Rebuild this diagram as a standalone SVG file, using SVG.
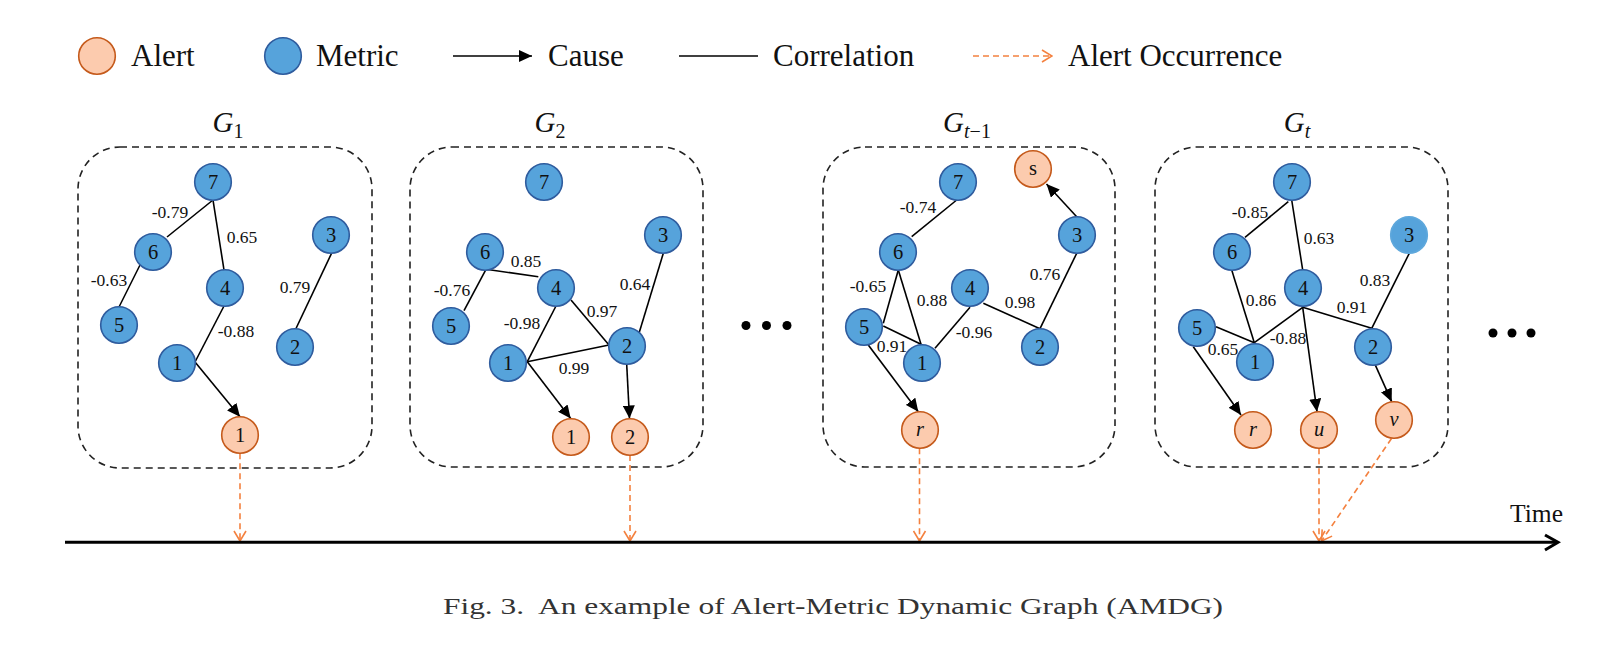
<svg xmlns="http://www.w3.org/2000/svg" width="1620" height="646" viewBox="0 0 1620 646">
<style>
text{font-family:"Liberation Serif","Times New Roman",serif;fill:#111}
.m circle{fill:#56A3DB;stroke:#2F5C9E;stroke-width:1.6}
.a circle{fill:#FCCBAE;stroke:#C55A1B;stroke-width:1.6}
.m text,.a text{font-size:20.5px;text-anchor:middle}
.it{font-style:italic}
.e{stroke:#000;stroke-width:1.6;fill:none}
.c{stroke:#000;stroke-width:1.6;fill:none;marker-end:url(#ah)}
.o{stroke:#F4813F;stroke-width:1.6;fill:none;stroke-dasharray:6 4;marker-end:url(#oh)}
.box{fill:none;stroke:#222;stroke-width:1.6;stroke-dasharray:7 5}
.lbl{font-size:17.5px;text-anchor:middle}
.leg{font-size:31px}
.ttl{font-size:29px;font-style:italic;text-anchor:middle}
</style>
<defs>
<marker id="ah" markerUnits="userSpaceOnUse" markerWidth="14" markerHeight="12" refX="13" refY="6" orient="auto"><path d="M0,0 L13,6 L0,12 z" fill="#000"/></marker>
<marker id="oh" markerUnits="userSpaceOnUse" markerWidth="12" markerHeight="14" refX="11" refY="7" orient="auto"><path d="M1,1 L11,7 L1,13" fill="none" stroke="#F4813F" stroke-width="1.6"/></marker>
</defs>
<rect width="1620" height="646" fill="#fff"/>

<!-- legend -->
<g id="legend">
<g class="a"><circle cx="97" cy="56" r="18.3"/></g>
<text class="leg" x="131" y="66">Alert</text>
<g class="m"><circle cx="283" cy="56" r="18.3"/></g>
<text class="leg" x="316" y="66">Metric</text>
<line class="c" x1="453" y1="56" x2="532" y2="56"/>
<text class="leg" x="548" y="66">Cause</text>
<line class="e" x1="679" y1="56" x2="758" y2="56"/>
<text class="leg" x="773" y="66">Correlation</text>
<line class="o" x1="973" y1="56" x2="1052" y2="56"/>
<text class="leg" x="1068" y="66">Alert Occurrence</text>
</g>

<!-- boxes & titles -->
<g id="frames">
<rect class="box" x="78" y="147" width="294" height="321" rx="42"/>
<rect class="box" x="410" y="147" width="293" height="320" rx="42"/>
<rect class="box" x="823" y="147" width="292" height="320" rx="42"/>
<rect class="box" x="1155" y="147" width="293" height="320" rx="42"/>
<text class="ttl" x="228" y="132">G<tspan font-size="20" font-style="normal" dy="6">1</tspan></text>
<text class="ttl" x="550" y="132">G<tspan font-size="20" font-style="normal" dy="6">2</tspan></text>
<text class="ttl" x="967" y="132">G<tspan font-size="20" dy="6">t</tspan><tspan font-size="20" font-style="normal">−1</tspan></text>
<text class="ttl" x="1297" y="132">G<tspan font-size="20" dy="6">t</tspan></text>
</g>

<!-- connectors -->
<g id="connectors">
<!-- G1 -->
<line class="e" x1="213" y1="200" x2="167" y2="237"/>
<line class="e" x1="213" y1="200" x2="224" y2="270"/>
<line class="e" x1="140" y1="265" x2="119" y2="307"/>
<line class="e" x1="224" y1="306" x2="195" y2="362"/>
<line class="e" x1="331.7" y1="253" x2="296" y2="328.5"/>
<line class="c" x1="195" y1="362" x2="240" y2="416.7"/>
<!-- G2 -->
<line class="e" x1="486" y1="269.3" x2="538.3" y2="276.7"/>
<line class="e" x1="486" y1="269.3" x2="464" y2="310.7"/>
<line class="e" x1="556" y1="306" x2="527.3" y2="361.7"/>
<line class="e" x1="571" y1="300" x2="609" y2="345"/>
<line class="e" x1="527.3" y1="361.7" x2="609" y2="345"/>
<line class="e" x1="663.3" y1="253.3" x2="639" y2="333.3"/>
<line class="c" x1="527.3" y1="361.7" x2="570.7" y2="418.5"/>
<line class="c" x1="626.7" y1="364.3" x2="629.5" y2="418.5"/>
<!-- Gt-1 -->
<line class="e" x1="956.7" y1="200" x2="911.7" y2="236.7"/>
<line class="e" x1="898.3" y1="270" x2="883.3" y2="323.3"/>
<line class="e" x1="898.3" y1="270" x2="921" y2="344.3"/>
<line class="e" x1="883.3" y1="326" x2="921" y2="344.3"/>
<line class="e" x1="935" y1="348.3" x2="970" y2="307.3"/>
<line class="e" x1="983.3" y1="303.3" x2="1040" y2="328.7"/>
<line class="e" x1="1040" y1="328.7" x2="1076.7" y2="253.3"/>
<line class="c" x1="1076.7" y1="216.7" x2="1046.5" y2="184"/>
<line class="c" x1="868.3" y1="345" x2="918.3" y2="411.7"/>
<!-- Gt -->
<line class="e" x1="1288.3" y1="201.7" x2="1245" y2="237.3"/>
<line class="e" x1="1291.7" y1="200" x2="1302.7" y2="270"/>
<line class="e" x1="1231.7" y1="270" x2="1254.3" y2="342.7"/>
<line class="e" x1="1216" y1="326.7" x2="1254.3" y2="342.7"/>
<line class="e" x1="1254.3" y1="342.7" x2="1302.7" y2="307.3"/>
<line class="e" x1="1302.7" y1="307.3" x2="1371.7" y2="328.3"/>
<line class="e" x1="1371.7" y1="328.3" x2="1409.3" y2="253.3"/>
<line class="c" x1="1302.7" y1="307.3" x2="1317" y2="411.7"/>
<line class="c" x1="1193.3" y1="346.7" x2="1241" y2="415"/>
<line class="c" x1="1375" y1="364.3" x2="1391.7" y2="401.7"/>
<!-- alert occurrences -->
<line class="o" x1="240" y1="453.3" x2="240" y2="541"/>
<line class="o" x1="630" y1="455" x2="630" y2="541"/>
<line class="o" x1="919.5" y1="448.3" x2="919.5" y2="541"/>
<line class="o" x1="1319" y1="448.3" x2="1319" y2="541"/>
<line class="o" x1="1391.5" y1="438.5" x2="1321.5" y2="541"/>
<!-- timeline -->
<line x1="65" y1="542.3" x2="1557" y2="542.3" stroke="#000" stroke-width="3"/>
<path d="M1545,535 L1558,542.3 L1545,550" fill="none" stroke="#000" stroke-width="3"/>
</g>

<!-- edge labels -->
<g id="edge-labels">
<text class="lbl" x="170" y="217.5">-0.79</text>
<text class="lbl" x="242" y="242.5">0.65</text>
<text class="lbl" x="109" y="286">-0.63</text>
<text class="lbl" x="295" y="292.5">0.79</text>
<text class="lbl" x="236" y="337">-0.88</text>

<text class="lbl" x="526" y="266.5">0.85</text>
<text class="lbl" x="452" y="296">-0.76</text>
<text class="lbl" x="522" y="328.5">-0.98</text>
<text class="lbl" x="602" y="316.5">0.97</text>
<text class="lbl" x="635" y="290">0.64</text>
<text class="lbl" x="574" y="373.5">0.99</text>

<text class="lbl" x="918" y="213">-0.74</text>
<text class="lbl" x="868" y="292">-0.65</text>
<text class="lbl" x="932" y="306">0.88</text>
<text class="lbl" x="1020" y="307.5">0.98</text>
<text class="lbl" x="1045" y="280">0.76</text>
<text class="lbl" x="974" y="337.5">-0.96</text>
<text class="lbl" x="892" y="352">0.91</text>

<text class="lbl" x="1250" y="217.5">-0.85</text>
<text class="lbl" x="1319" y="243.5">0.63</text>
<text class="lbl" x="1261" y="306">0.86</text>
<text class="lbl" x="1352" y="313">0.91</text>
<text class="lbl" x="1375" y="286">0.83</text>
<text class="lbl" x="1288" y="344">-0.88</text>
<text class="lbl" x="1223" y="355">0.65</text>
</g>

<!-- G1 nodes -->
<g id="g1-m7" class="m"><circle cx="213" cy="182" r="18.3"/><text x="213" y="189">7</text></g>
<g id="g1-m6" class="m"><circle cx="153" cy="252" r="18.3"/><text x="153" y="259">6</text></g>
<g id="g1-m5" class="m"><circle cx="119" cy="325" r="18.3"/><text x="119" y="332">5</text></g>
<g id="g1-m4" class="m"><circle cx="225" cy="288" r="18.3"/><text x="225" y="295">4</text></g>
<g id="g1-m1" class="m"><circle cx="177" cy="363" r="18.3"/><text x="177" y="370">1</text></g>
<g id="g1-m3" class="m"><circle cx="331" cy="235" r="18.3"/><text x="331" y="242">3</text></g>
<g id="g1-m2" class="m"><circle cx="295" cy="347" r="18.3"/><text x="295" y="354">2</text></g>
<g id="g1-a1" class="a"><circle cx="240" cy="435" r="18.3"/><text x="240" y="442">1</text></g>

<!-- G2 nodes -->
<g id="g2-m7" class="m"><circle cx="544" cy="182" r="18.3"/><text x="544" y="189">7</text></g>
<g id="g2-m6" class="m"><circle cx="485" cy="252" r="18.3"/><text x="485" y="259">6</text></g>
<g id="g2-m5" class="m"><circle cx="451" cy="326" r="18.3"/><text x="451" y="333">5</text></g>
<g id="g2-m4" class="m"><circle cx="556" cy="288" r="18.3"/><text x="556" y="295">4</text></g>
<g id="g2-m1" class="m"><circle cx="508" cy="363" r="18.3"/><text x="508" y="370">1</text></g>
<g id="g2-m3" class="m"><circle cx="663" cy="235" r="18.3"/><text x="663" y="242">3</text></g>
<g id="g2-m2" class="m"><circle cx="627" cy="346" r="18.3"/><text x="627" y="353">2</text></g>
<g id="g2-a1" class="a"><circle cx="571" cy="437" r="18.3"/><text x="571" y="444">1</text></g>
<g id="g2-a2" class="a"><circle cx="630" cy="437" r="18.3"/><text x="630" y="444">2</text></g>

<!-- Gt-1 nodes -->
<g id="gt1-m7" class="m"><circle cx="958" cy="182" r="18.3"/><text x="958" y="189">7</text></g>
<g id="gt1-as" class="a"><circle cx="1033" cy="169" r="18.3"/><text x="1033" y="175">s</text></g>
<g id="gt1-m6" class="m"><circle cx="898" cy="252" r="18.3"/><text x="898" y="259">6</text></g>
<g id="gt1-m3" class="m"><circle cx="1077" cy="235" r="18.3"/><text x="1077" y="242">3</text></g>
<g id="gt1-m4" class="m"><circle cx="970" cy="288" r="18.3"/><text x="970" y="295">4</text></g>
<g id="gt1-m5" class="m"><circle cx="864" cy="327" r="18.3"/><text x="864" y="334">5</text></g>
<g id="gt1-m1" class="m"><circle cx="922" cy="363" r="18.3"/><text x="922" y="370">1</text></g>
<g id="gt1-m2" class="m"><circle cx="1040" cy="347" r="18.3"/><text x="1040" y="354">2</text></g>
<g id="gt1-ar" class="a"><circle cx="920" cy="430" r="18.3"/><text class="it" x="920" y="436">r</text></g>

<!-- Gt nodes -->
<g id="gt-m7" class="m"><circle cx="1292" cy="182" r="18.3"/><text x="1292" y="189">7</text></g>
<g id="gt-m6" class="m"><circle cx="1232" cy="252" r="18.3"/><text x="1232" y="259">6</text></g>
<g id="gt-m3" class="m"><circle cx="1409" cy="235" r="18.3" style="stroke:#5FA8DC"/><text x="1409" y="242">3</text></g>
<g id="gt-m4" class="m"><circle cx="1303" cy="288" r="18.3"/><text x="1303" y="295">4</text></g>
<g id="gt-m5" class="m"><circle cx="1197" cy="328" r="18.3"/><text x="1197" y="335">5</text></g>
<g id="gt-m1" class="m"><circle cx="1255" cy="362" r="18.3"/><text x="1255" y="369">1</text></g>
<g id="gt-m2" class="m"><circle cx="1373" cy="347" r="18.3"/><text x="1373" y="354">2</text></g>
<g id="gt-ar" class="a"><circle cx="1253" cy="430" r="18.3"/><text class="it" x="1253" y="436">r</text></g>
<g id="gt-au" class="a"><circle cx="1319" cy="430" r="18.3"/><text class="it" x="1319" y="436">u</text></g>
<g id="gt-av" class="a"><circle cx="1394" cy="420" r="18.3"/><text class="it" x="1394" y="426">v</text></g>

<!-- ellipses -->
<g id="dots1"><circle cx="746" cy="325.5" r="4.5"/><circle cx="766.5" cy="325.5" r="4.5"/><circle cx="787" cy="325.5" r="4.5"/></g>
<g id="dots2"><circle cx="1493" cy="333" r="4.5"/><circle cx="1512" cy="333" r="4.5"/><circle cx="1531" cy="333" r="4.5"/></g>

<text x="1510" y="522" font-size="26" textLength="53" lengthAdjust="spacingAndGlyphs">Time</text>
<text x="443" y="614" font-size="24" xml:space="preserve" textLength="780" lengthAdjust="spacingAndGlyphs" style="fill:#333">Fig. 3.  An example of Alert-Metric Dynamic Graph (AMDG)</text>
</svg>
